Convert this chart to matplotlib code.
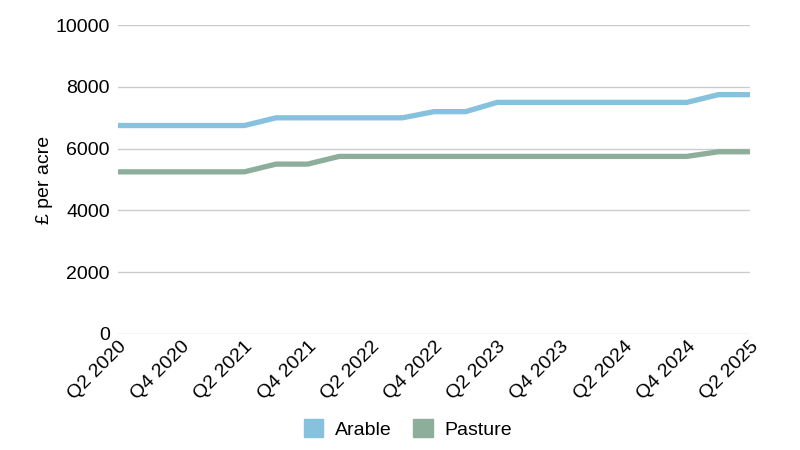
import matplotlib
matplotlib.use("Agg")
import matplotlib.pyplot as plt
from matplotlib.patches import Patch

plt.rcParams["font.family"] = ["Liberation Sans", "DejaVu Sans"]

# 季度标签 (Q2 2020 .. Q2 2025)
quarters = ["Q2 2020", "Q3 2020", "Q4 2020", "Q1 2021", "Q2 2021", "Q3 2021",
            "Q4 2021", "Q1 2022", "Q2 2022", "Q3 2022", "Q4 2022", "Q1 2023",
            "Q2 2023", "Q3 2023", "Q4 2023", "Q1 2024", "Q2 2024", "Q3 2024",
            "Q4 2024", "Q1 2025", "Q2 2025"]
arable = [6750, 6750, 6750, 6750, 6750, 7000, 7000, 7000, 7000, 7000, 7200,
          7200, 7500, 7500, 7500, 7500, 7500, 7500, 7500, 7750, 7750]
pasture = [5250, 5250, 5250, 5250, 5250, 5500, 5500, 5750, 5750, 5750, 5750,
           5750, 5750, 5750, 5750, 5750, 5750, 5750, 5750, 5900, 5900]
y_ticks = [0, 2000, 4000, 6000, 8000, 10000]

c_arable = "#86c1dd"
c_pasture = "#8cae9a"

fig = plt.figure(figsize=(8, 4.5), dpi=100)
ax = fig.add_axes([0.1475, 0.258, 0.79, 0.686])

x = list(range(len(quarters)))
ax.plot(x, arable, color=c_arable, lw=3.8, solid_capstyle="butt")
ax.plot(x, pasture, color=c_pasture, lw=3.8, solid_capstyle="butt")

ax.set_xlim(0, len(quarters) - 1)
ax.set_ylim(0, 10000)
ax.set_yticks(y_ticks)
ax.set_yticklabels([str(v) for v in y_ticks], fontsize=14)
ax.set_xticks(x[::2])
ax.set_xticklabels(quarters[::2], rotation=45, ha="right", va="top",
                   rotation_mode="anchor", fontsize=14)
ax.tick_params(axis="y", length=0, pad=6)
ax.tick_params(axis="x", length=0, pad=3)
ax.grid(axis="y", color="#cccccc", lw=1)
ax.set_axisbelow(True)
for s in ax.spines.values():
    s.set_visible(False)
ax.set_ylabel("£ per acre", fontsize=14, labelpad=2)

handles = [Patch(color=c_arable, label="Arable"), Patch(color=c_pasture, label="Pasture")]
fig.legend(handles=handles, loc="center", bbox_to_anchor=(0.51, 0.047), ncol=2,
           frameon=False, fontsize=14, handlelength=1.0, handleheight=1.0,
           columnspacing=1.1, handletextpad=0.6)

fig.savefig("out.png", dpi=100)
